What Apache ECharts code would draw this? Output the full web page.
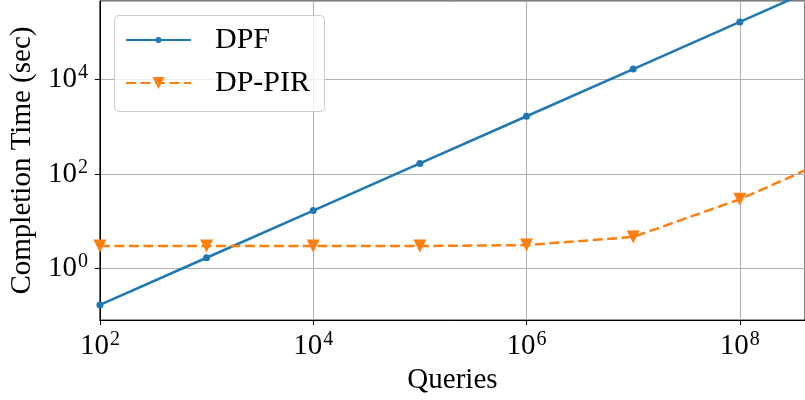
<!DOCTYPE html>
<html>
<head>
<meta charset="utf-8">
<script src="https://cdn.jsdelivr.net/npm/echarts@6/dist/echarts.min.js"></script>
<style>
  html, body { margin: 0; padding: 0; background: #fff; }
  #chart { width: 805px; height: 400px; }
</style>
</head>
<body>
<div id="chart"></div>
<script>
// 查询数量
const queries = [1e2, 1e3, 1e4, 1e5, 1e6, 1e7, 1e8, 1e9]
// 完成时间 (sec)
const dpfTime = [0.167, 1.67, 16.7, 167, 1670, 16700, 167000, 1670000]
const dppirTime = [2.95, 2.95, 2.95, 2.95, 3.1, 4.6, 29, 290]

const font = 'Liberation Serif'

// 10^n 形式的刻度标签，只显示偶数次幂
function powLabel(value) {
  const e = Math.log10(value)
  const n = Math.round(e)
  if (Math.abs(e - n) > 1e-6 || n % 2 !== 0) return ''
  return '{b|10}{s|' + n + '}'
}

const labelRich = {
  b: { fontFamily: font, fontSize: 29, color: '#000' },
  s: { fontFamily: font, fontSize: 20, color: '#000', padding: [0, 0, 13, 1] }
}

// 图例（每项单独一个，便于控制标记大小）
function legendItem(name, top, h) {
  return {
    orient: 'vertical',
    left: 125,
    top: top,
    padding: 0,
    itemWidth: 65,
    itemHeight: h,
    z: 6,
    textStyle: { fontFamily: font, fontSize: 30, color: '#000', padding: [0, 0, 0, 19] },
    data: [name]
  }
}

const chart = echarts.init(document.getElementById('chart'), null, { renderer: 'canvas' })

const option = {
  animation: false,
  backgroundColor: '#fff',
  textStyle: { fontFamily: font },
  grid: {
    left: 99, right: 0, top: 1, bottom: 77,
    show: true, borderColor: '#000', borderWidth: 1,
    containLabel: false
  },
  graphic: [{
    type: 'rect',
    z: 5,
    shape: { x: 114.5, y: 15.5, width: 210, height: 96, r: 4 },
    style: { fill: 'rgba(255,255,255,0.8)', stroke: '#cccccc', lineWidth: 1 }
  }],
  legend: [
    legendItem('DPF', 25, 7.5),
    legendItem('DP-PIR', 68, 15)
  ],
  xAxis: {
    type: 'log',
    logBase: 100,
    min: 1e2,
    max: 4.08e8,
    name: 'Queries',
    nameLocation: 'middle',
    nameGap: 42,
    nameTextStyle: { fontFamily: font, fontSize: 29, color: '#000' },
    axisLine: { lineStyle: { color: '#000', width: 1 } },
    axisTick: { length: 5, lineStyle: { color: '#000' } },
    axisLabel: { formatter: powLabel, rich: labelRich, margin: 10, showMaxLabel: false },
    splitLine: { show: true, lineStyle: { color: '#b0b0b0', width: 1 } },
    minorTick: { show: false }
  },
  yAxis: {
    type: 'log',
    logBase: 100,
    min: 0.0796,
    max: 4.63e5,
    name: 'Completion Time (sec)',
    nameLocation: 'middle',
    nameGap: 58,
    nameTextStyle: { fontFamily: font, fontSize: 29, color: '#000' },
    axisLine: { lineStyle: { color: '#000', width: 1 } },
    axisTick: { length: 5, lineStyle: { color: '#000' } },
    axisLabel: { formatter: powLabel, rich: labelRich, margin: 12, showMinLabel: false, showMaxLabel: false },
    splitLine: { show: true, lineStyle: { color: '#b0b0b0', width: 1 } }
  },
  series: [
    {
      name: 'DPF',
      type: 'line',
      data: queries.map((q, i) => [q, dpfTime[i]]),
      color: '#1f77b4',
      lineStyle: { width: 2.5 },
      symbol: 'circle',
      symbolSize: 7,
      showAllSymbol: true,
      clip: true,
      emphasis: { disabled: true },
      z: 3
    },
    {
      name: 'DP-PIR',
      type: 'line',
      data: queries.map((q, i) => [q, dppirTime[i]]),
      color: '#ff7f0e',
      lineStyle: { width: 2.5, type: [10, 4.5] },
      symbol: 'triangle',
      symbolRotate: 180,
      symbolSize: 13,
      showAllSymbol: true,
      clip: true,
      emphasis: { disabled: true },
      z: 4
    }
  ]
}

chart.setOption(option)
</script>
</body>
</html>
